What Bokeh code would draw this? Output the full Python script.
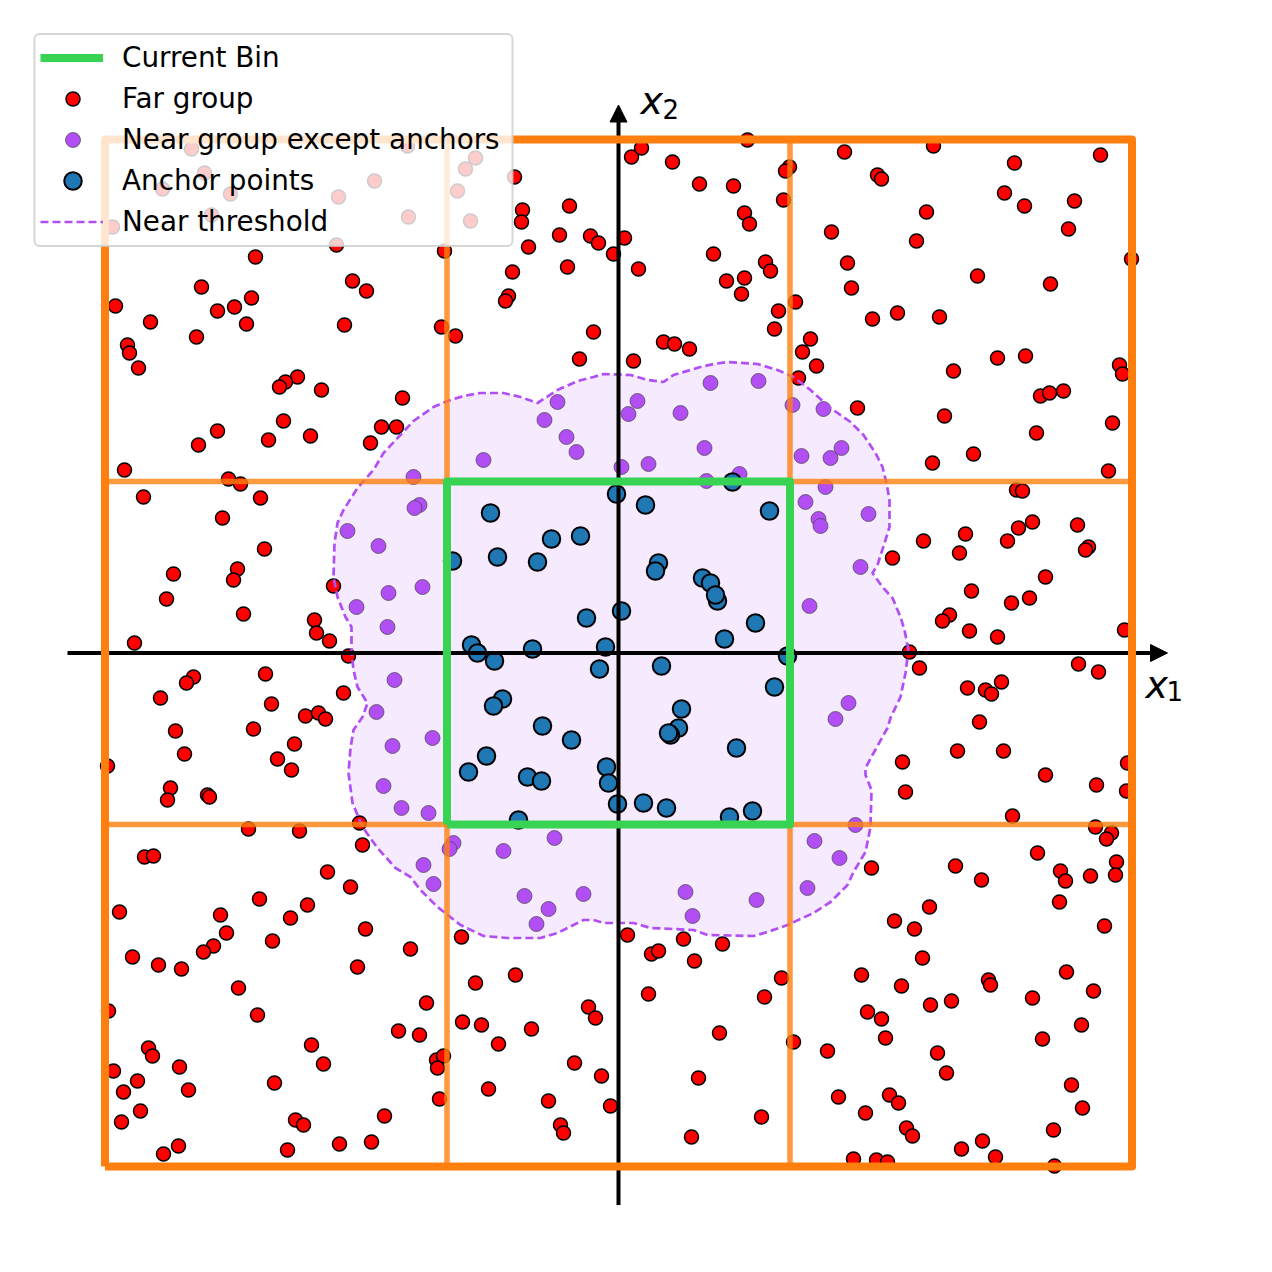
from bokeh.plotting import figure
from bokeh.embed import file_html
from bokeh.resources import INLINE
from bokeh.models import Range1d, Legend, LegendItem, Arrow, NormalHead, BoxAnnotation
from bokeh.core.properties import value

# Values are in chart units centred on the origin of the x1/x2 axes.
bin_edges = [-513.5, -171.5, 171.5, 513.5]

far_group = [
    (-427,504),(-414,480),(-456,464),(-388,459),(-280,456),(-244,472),(-143,495),(-153,484),(-161,462),(-210,436),
    (-148,432),(-407,438),(-506,426),(-211,507),(-282,408),(-363,396),(-174,402),(-104,476),(-96,443),(-97,431),(-90,406),
    (-503,347),(-417,366),(-401,342),(-384,346),(-367,355),(-468,331),(-372,329),(-422,316),(-491,308),(-489,300),
    (-480,285),(-266,372),(-252,362),(-274,328),(-177,326),(-163,317),(-321,276),(-333,271),(-339,266),(-297,263),
    (-216,255),(-335,232),(-401,222),(-420,208),(-350,213),(-308,217),(-237,226),(-222,226),(-248,210),(-494,183),
    (-390,174),(-378,169),(-475,156),(-358,155),(-396,135),(-354,104),(-381,84),(-385,73),(-445,79),(-452,54),
    (-375,39),(-484,10),(-304,33),(-302,20),(-289,12),(-285,67),(-270,-3),(-353,-21),(-425,-24),(-432,-30),
    (-458,-45),(-347,-51),(-275,-40),(-443,-78),(-365,-76),(-313,-63),(-300,-60),(-293,-66),(-434,-101),(-324,-91),
    (-341,-106),(-327,-117),(-511,-113),(-448,-135),(-451,-147),(-411,-142),(-409,-144),(-370,-176),(-319,-178),
    (-259,-170),(-256,-192),(-474,-204),(-465,-203),(-291,-219),(-268,-234),(-359,-246),(-311,-252),(-328,-265),
    (-499,-259),(-398,-262),(-392,-280),(-405,-293),(-415,-299),(-346,-288),(-253,-276),(-208,-296),(-486,-304),
    (-460,-312),(-437,-316),(-261,-314),(-380,-335),(-192,-350),(-361,-362),(-510,-358),(-220,-378),(-199,-382),
    (-307,-392),(-470,-395),(-466,-403),(-295,-411),(-182,-407),(-175,-403),(-181,-415),(-505,-418),(-439,-414),
    (-481,-428),(-495,-439),(-430,-437),(-344,-430),(-179,-446),(-478,-458),(-497,-469),(-323,-467),(-315,-472),
    (-234,-463),(-440,-493),(-279,-491),(-247,-489),(-455,-501),(-331,-497),
    (13,496),(23,505),(54,491),(81,469),(115,467),(129,513),(171,486),(167,482),(165,453),(126,440),(131,429),
    (-49,447),(-59,418),(-28,417),(-20,410),(6,415),(-5,399),(20,384),(-51,386),(-106,381),(-110,357),(-113,352),
    (95,399),(108,372),(126,375),(123,359),(147,391),(152,382),(177,351),(160,342),(156,324),(192,314),(184,301),
    (198,287),(180,275),(-25,321),(45,311),(56,309),(71,304),(-39,294),(15,292),
    (226,501),(315,507),(396,490),(482,498),(259,478),(263,474),(386,460),(406,447),(456,452),(308,441),(213,421),
    (298,412),(450,424),(229,390),(233,365),(359,377),(432,369),(513,394),(254,334),(279,340),(321,336),(379,295),
    (407,297),(335,282),(501,288),(504,279),(422,257),(431,260),(445,262),(239,245),(326,237),(494,230),(418,220),
    (314,190),(355,199),(490,182),
    (398,163),(404,162),(459,128),(414,131),(400,125),(389,112),(347,119),(305,112),(341,100),(274,95),(470,106),
    (467,103),(427,76),(353,62),(411,55),(393,50),(331,38),(324,32),(351,22),(379,16),(506,23),(291,1),(301,-15),
    (460,-11),(480,-19),(349,-35),(367,-37),(373,-41),(383,-29),(361,-69),(339,-98),(385,-98),(284,-109),(427,-122),
    (509,-110),(478,-132),(287,-139),(508,-138),(394,-163),(477,-174),(493,-180),(488,-186),
    (253,-215),(419,-200),(337,-213),(363,-227),(442,-218),(447,-228),(498,-209),(472,-223),(497,-222),(441,-249),
    (276,-268),(296,-276),(311,-254),(486,-273),(304,-305),(243,-322),(283,-333),(370,-327),(372,-332),(448,-319),
    (475,-338),(414,-345),(249,-359),(263,-366),(312,-352),(333,-348),(463,-372),(267,-385),(424,-386),(319,-400),
    (209,-398),(328,-420),(453,-432),(220,-444),(271,-442),(280,-450),(247,-460),(464,-455),(288,-475),(294,-483),
    (435,-477),(364,-488),(343,-496),(377,-504),(235,-506),(258,-507),(269,-509),(436,-513),
    (9,-282),(33,-301),(40,-298),(65,-286),(104,-291),(76,-308),(-157,-284),(-103,-322),(-143,-330),(163,-325),
    (30,-341),(146,-344),(-30,-354),(-23,-365),(-156,-369),(-137,-372),(-87,-376),(101,-380),(175,-389),(-120,-391),
    (-44,-410),(-17,-423),(80,-425),(-130,-436),(-70,-448),(-8,-453),(143,-464),(-58,-472),(-55,-480),(73,-484),
]

near_group = [
    (-61,251),(-74,233),(-52,216),(-42,201),(-135,193),(-205,176),(-199,148),(-204,145),(-271,122),(-240,107),
    (-196,66),(-230,60),(-262,46),(-231,26),(3,186),(19,252),(10,239),(62,240),(92,270),(140,272),(174,248),
    (205,244),(86,205),(30,189),(88,172),(121,179),(183,197),(212,195),(223,205),(207,166),(187,151),(200,134),
    (202,127),(250,139),(242,86),(191,47),(-224,-27),(-242,-59),(-186,-85),(-226,-93),(-235,-133),(-217,-155),
    (-190,-160),(-165,-190),(-169,-196),(-115,-198),(-64,-185),(-195,-212),(-185,-231),(-94,-243),(-70,-256),
    (-82,-271),(-35,-241),(230,-50),(217,-66),(237,-172),(196,-188),(221,-205),(189,-235),(67,-239),(138,-247),(74,-263),
]

anchors = [
    (-128,140),(-67,114),(-38,117),(-166,92),(-121,96),(-81,91),(-2,159),(3,42),(-32,35),(-86,4),(-13,6),(-147,8),
    (-141,0),(27,148),(114,171),(151,142),(40,90),(37,82),(84,75),(92,70),(99,52),(97,58),(137,30),(106,14),(169,-3),
    (-124,-8),(-19,-16),(-116,-46),(-125,-53),(-76,-73),(-47,-87),(-132,-103),(-150,-119),(-91,-124),(-77,-128),
    (-12,-114),(-10,-130),(-1,-151),(-100,-167),(43,-13),(156,-34),(63,-56),(60,-75),(52,-82),(50,-80),(118,-95),
    (25,-150),(48,-155),(134,-158),(111,-164),
]

near_threshold = [
    (290,3),(289,8),(286,23),(282,36),(274,55),(264,66),(254,80),(259,88),(267,113),(271,126),(271,153),(268,170),
    (264,186),(257,200),(245,218),(232,231),(212,245),(192,263),(175,276),(159,283),(139,289),(109,291),(95,289),
    (82,286),(55,278),(45,271),(29,273),(12,278),(-15,279),(-25,276),(-41,272),(-61,263),(-81,250),(-98,256),
    (-115,260),(-138,260),(-155,257),(-171,252),(-185,246),(-205,232),(-220,216),(-235,200),(-245,183),(-261,165),
    (-275,143),(-281,130),(-284,110),(-285,76),(-281,56),(-273,36),(-267,26),(-267,1),(-265,-17),(-261,-34),
    (-251,-50),(-256,-64),(-265,-77),(-268,-95),(-270,-120),(-266,-150),(-256,-174),(-241,-195),(-223,-215),
    (-208,-224),(-198,-237),(-181,-254),(-158,-272),(-135,-283),(-111,-285),(-78,-285),(-61,-280),(-45,-272),
    (-35,-267),(-25,-267),(-15,-270),(15,-270),(32,-275),(75,-277),(89,-282),(135,-283),(149,-279),(169,-272),
    (195,-260),(212,-249),(229,-232),(235,-219),(247,-199),(252,-174),(253,-137),(247,-122),(247,-115),(254,-102),
    (269,-75),(272,-65),(282,-44),(287,-20),(290,3),
]

legend_labels = ["Current Bin", "Far group", "Near group except anchors", "Anchor points", "Near threshold"]

ORANGE = "#ff7f0e"
GREEN = "#39d353"
PURPLE = "#b14ff5"
BLUE = "#1f77b4"
FONT = "DejaVu Sans"

RED_STYLE = dict(size=14, fill_color="#ff0000", line_color="black", line_width=1.5)
NEAR_STYLE = dict(size=15, fill_color=PURPLE, line_color="#444444", line_width=0.7)
ANCHOR_STYLE = dict(size=17.5, fill_color=BLUE, line_color="black", line_width=2)


def xs(points):
    return [pt[0] for pt in points]


def ys(points):
    return [pt[1] for pt in points]


p = figure(width=1256, height=1256, output_backend="svg", toolbar_location=None,
           x_range=Range1d(-618, 638), y_range=Range1d(-603.5, 652.5),
           x_axis_type=None, y_axis_type=None, min_border=0,
           outline_line_color=None, background_fill_color="white")
p.grid.visible = False

p.patch(xs(near_threshold), ys(near_threshold), fill_color=PURPLE, fill_alpha=0.12, line_color=None,
        level="underlay")
p.scatter(xs(far_group), ys(far_group), level="underlay", **RED_STYLE)
p.scatter(xs(near_group), ys(near_group), level="underlay", **NEAR_STYLE)
p.scatter(xs(anchors), ys(anchors), level="underlay", **ANCHOR_STYLE)
r_thr = p.line(xs(near_threshold), ys(near_threshold), line_color=PURPLE, line_width=2.7, line_dash="8 4",
               level="underlay")

for x0, y0, x1, y1 in [(-551, 0, 549, 0), (0, -552, 0, 548)]:
    p.add_layout(Arrow(x_start=x0, y_start=y0, x_end=x1, y_end=y1, line_color="black", line_width=4,
                       level="glyph",
                       end=NormalHead(size=17, fill_color="black", line_color="black", line_width=1)))

lo, a, b, hi = bin_edges
for inner in (a, b):
    p.line([inner, inner], [lo, hi], line_color=ORANGE, line_alpha=0.8, line_width=5.5, level="guide")
    p.line([lo, hi], [inner, inner], line_color=ORANGE, line_alpha=0.8, line_width=5.5, level="guide")

p.line([lo, hi, hi, lo, lo], [lo, lo, hi, hi, lo], line_color=ORANGE, line_width=8,
       line_join="round", level="guide")
r_bin = p.line([a, b, b, a, a], [a, a, b, b, a], line_color=GREEN, line_width=8,
               line_join="round", level="guide")

for tx, ty, label, size, style in [(527, -32, "x", "38px", "italic"), (548, -38, "1", "26px", "normal"),
                                   (22, 552, "x", "38px", "italic"), (44, 544, "2", "26px", "normal")]:
    p.text([tx], [ty], text=[label], text_font=value(FONT), text_font_size=value(size),
           text_font_style=style, text_baseline="alphabetic", text_align="left", text_color="black")

p.add_layout(BoxAnnotation(left=-584, right=-106, top=619, bottom=407, level="guide",
                           fill_color="white", fill_alpha=0.8,
                           line_color="#cccccc", line_alpha=0.8, line_width=2, border_radius=5))

# Legend keys at the reference's marker sizes, which Bokeh's legend cannot draw by itself:
# each key is a real marker, and the legend row points at a transparent twin of it.
key_x, key_y = -545.5, [554, 513, 472]
twins = []
for ky, style in zip(key_y, [RED_STYLE, NEAR_STYLE, ANCHOR_STYLE]):
    p.scatter([key_x], [ky], level="annotation", **style)
    twins.append(p.scatter([key_x], [ky], level="underlay", size=1, fill_alpha=0, line_alpha=0))

legend = Legend(
    items=[LegendItem(label=lab, renderers=[r]) for lab, r in
           zip(legend_labels, [r_bin, twins[0], twins[1], twins[2], r_thr])],
    location=(40, 1018), level="annotation",
    label_text_font=FONT, label_text_font_size="27.8px", label_text_color="black",
    glyph_width=63, glyph_height=25, label_height=25, label_standoff=19,
    spacing=8, padding=6, margin=0,
    background_fill_alpha=0, border_line_color=None,
)
p.add_layout(legend)

open("out.html", "w").write(file_html(p, INLINE))
